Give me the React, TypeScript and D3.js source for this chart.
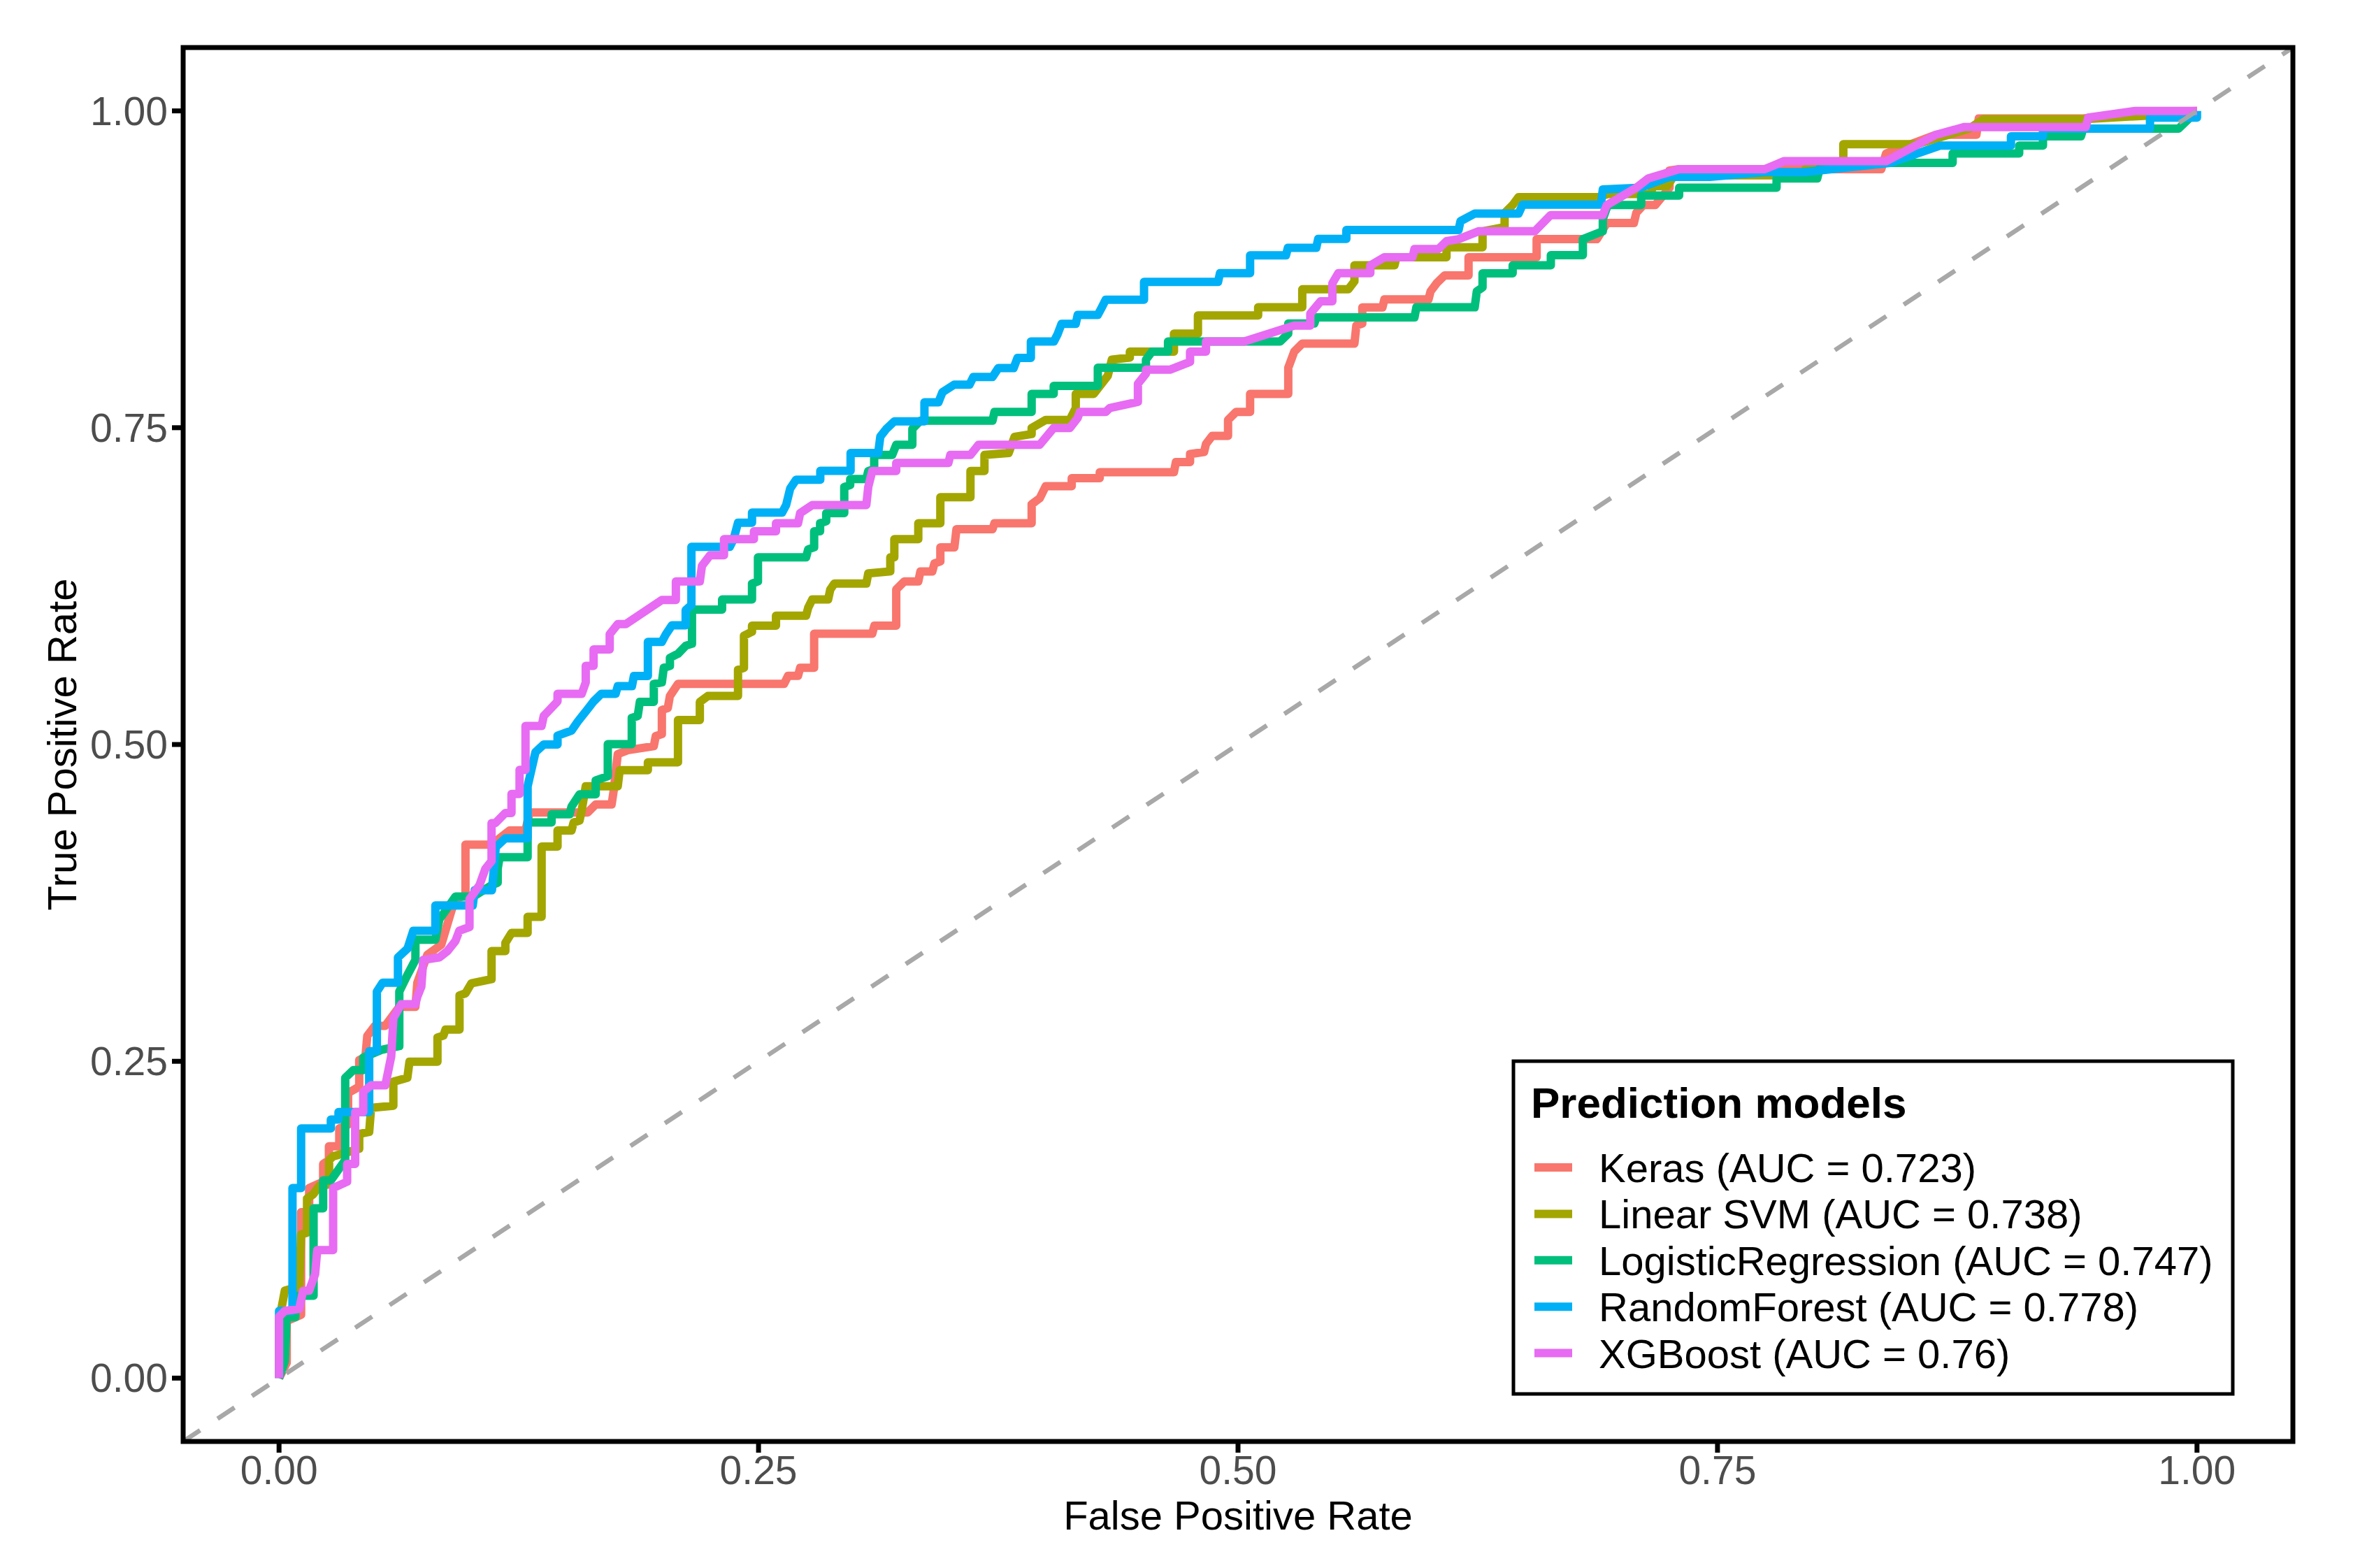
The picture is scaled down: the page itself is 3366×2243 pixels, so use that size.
import React from 'react';
import * as d3 from 'd3';

// ROC points: [false positive rate, true positive rate]
const keras = [
  [0, 0], [0.004, 0.012], [0.004, 0.045], [0.0115, 0.05], [0.0115, 0.131], [0.0157, 0.131], [0.0157, 0.15],
  [0.023, 0.155], [0.023, 0.169], [0.026, 0.172], [0.026, 0.183], [0.0314, 0.183], [0.0314, 0.197], [0.036, 0.2],
  [0.036, 0.225], [0.0418, 0.23], [0.0418, 0.251], [0.045, 0.253], [0.046, 0.27], [0.05, 0.278], [0.0554, 0.278],
  [0.0627, 0.293], [0.0711, 0.293], [0.0721, 0.312], [0.0773, 0.334], [0.0846, 0.342], [0.0899, 0.369],
  [0.092, 0.378], [0.0972, 0.381], [0.0972, 0.421], [0.1108, 0.421], [0.1202, 0.4321], [0.1285, 0.4321],
  [0.1306, 0.4464], [0.1609, 0.4464], [0.1651, 0.4527], [0.1734, 0.4527], [0.1745, 0.4638], [0.1766, 0.4924],
  [0.1818, 0.4955], [0.1954, 0.4987], [0.1964, 0.5066], [0.1996, 0.5082], [0.1996, 0.5272], [0.2027, 0.5288],
  [0.2038, 0.5383], [0.208, 0.5478], [0.2633, 0.5478], [0.2654, 0.5542], [0.2706, 0.5542], [0.2717, 0.5605],
  [0.279, 0.5605], [0.279, 0.5875], [0.3093, 0.5875], [0.3104, 0.5938], [0.3218, 0.5938], [0.3218, 0.6223],
  [0.326, 0.6287], [0.3333, 0.6287], [0.3344, 0.6366], [0.3406, 0.6366], [0.3417, 0.6429], [0.3448, 0.6445],
  [0.3448, 0.6556], [0.3521, 0.6556], [0.3532, 0.6699], [0.372, 0.6699], [0.373, 0.6746], [0.3924, 0.6746],
  [0.3924, 0.6896], [0.3966, 0.6943], [0.3997, 0.7038], [0.4133, 0.7038], [0.4133, 0.7102], [0.4279, 0.7102],
  [0.4279, 0.7149], [0.4666, 0.7149], [0.4676, 0.7228], [0.475, 0.7228], [0.475, 0.7292], [0.4823, 0.7308],
  [0.4833, 0.7371], [0.4865, 0.7435], [0.4948, 0.7435], [0.4948, 0.7561], [0.499, 0.7625], [0.5063, 0.7625],
  [0.5063, 0.7767], [0.5262, 0.7767], [0.5262, 0.7973], [0.5293, 0.81], [0.5335, 0.8164], [0.5607, 0.8164],
  [0.5617, 0.8306], [0.5648, 0.8322], [0.5648, 0.8449], [0.5753, 0.8449], [0.5763, 0.8512], [0.5993, 0.8512],
  [0.6004, 0.8576], [0.6035, 0.8639], [0.6077, 0.8702], [0.6202, 0.8702], [0.6202, 0.8845], [0.6557, 0.8845],
  [0.6557, 0.8988], [0.6871, 0.8988], [0.6923, 0.9115], [0.7064, 0.9115], [0.7077, 0.9197], [0.7114, 0.9258],
  [0.7176, 0.9258], [0.725, 0.9394], [0.725, 0.9529], [0.73, 0.954], [0.8354, 0.954], [0.8379, 0.9664],
  [0.864, 0.9812], [0.885, 0.9812], [0.8862, 0.994], [0.9408, 0.994], [0.9656, 0.9984], [1, 1],
];

const linearSvm = [
  [0, 0], [0, 0.045], [0.003, 0.069], [0.0105, 0.0723], [0.0115, 0.1132], [0.0146, 0.1148], [0.0146, 0.1417],
  [0.0178, 0.145], [0.0209, 0.1515], [0.0261, 0.153], [0.0261, 0.172], [0.0282, 0.175], [0.0324, 0.1768],
  [0.0418, 0.181], [0.0418, 0.1927], [0.047, 0.1943], [0.048, 0.2133], [0.0596, 0.2149], [0.0596, 0.2339],
  [0.0669, 0.237], [0.068, 0.2497], [0.0826, 0.2497], [0.0826, 0.2687], [0.0857, 0.2703], [0.0868, 0.275],
  [0.0941, 0.275], [0.0941, 0.302], [0.0972, 0.3036], [0.1003, 0.3116], [0.1108, 0.3148], [0.1108, 0.337],
  [0.118, 0.337], [0.118, 0.3434], [0.1212, 0.3513], [0.1296, 0.3513], [0.1296, 0.364], [0.1369, 0.364],
  [0.1369, 0.4195], [0.1452, 0.4195], [0.1452, 0.4321], [0.1525, 0.4321], [0.1536, 0.4385], [0.1567, 0.44],
  [0.1578, 0.448], [0.1599, 0.467], [0.1766, 0.467], [0.1776, 0.4797], [0.1923, 0.4797], [0.1923, 0.486],
  [0.208, 0.486], [0.208, 0.5193], [0.2194, 0.5193], [0.2194, 0.5336], [0.2236, 0.5383], [0.2393, 0.5383],
  [0.2393, 0.5589], [0.2424, 0.5605], [0.2424, 0.5859], [0.2466, 0.589], [0.2466, 0.5938], [0.2591, 0.5938],
  [0.2591, 0.6017], [0.2748, 0.6017], [0.2759, 0.608], [0.278, 0.6144], [0.2863, 0.6144], [0.2874, 0.6223],
  [0.2895, 0.627], [0.3062, 0.627], [0.3072, 0.635], [0.3187, 0.6366], [0.3187, 0.6477], [0.3208, 0.6477],
  [0.3208, 0.662], [0.3333, 0.662], [0.3333, 0.6746], [0.3448, 0.6746], [0.3448, 0.6952], [0.3605, 0.6952],
  [0.3605, 0.7158], [0.3678, 0.7158], [0.3678, 0.7285], [0.3804, 0.73], [0.3835, 0.7428], [0.3924, 0.745],
  [0.3924, 0.7498], [0.3997, 0.7561], [0.4123, 0.7561], [0.4154, 0.7656], [0.4154, 0.7767], [0.4248, 0.7767],
  [0.4321, 0.791], [0.4342, 0.8037], [0.4436, 0.8053], [0.4436, 0.81], [0.4666, 0.81], [0.4666, 0.8243],
  [0.4791, 0.8243], [0.4791, 0.8386], [0.5105, 0.8386], [0.5105, 0.845], [0.5335, 0.845], [0.5335, 0.8592],
  [0.5575, 0.8592], [0.5607, 0.8655], [0.5607, 0.8782], [0.5816, 0.8782], [0.5826, 0.8845], [0.6087, 0.8845],
  [0.6087, 0.8924], [0.6275, 0.8924], [0.6275, 0.905], [0.639, 0.9083], [0.639, 0.9194], [0.6432, 0.9257],
  [0.6463, 0.932], [0.6881, 0.932], [0.6928, 0.9344], [0.7151, 0.9344], [0.7164, 0.9406], [0.7238, 0.9406],
  [0.7275, 0.9492], [0.7945, 0.9492], [0.7957, 0.954], [0.8156, 0.9603], [0.8156, 0.9738], [0.854, 0.9738],
  [0.8813, 0.9861], [0.8887, 0.9935], [0.9408, 0.9935], [0.9755, 0.9964], [1, 1],
];

const logisticRegression = [
  [0, 0], [0.003, 0.013], [0.004, 0.048], [0.0085, 0.048], [0.0085, 0.065], [0.018, 0.065], [0.018, 0.134],
  [0.023, 0.134], [0.023, 0.156], [0.027, 0.156], [0.0345, 0.172], [0.0345, 0.237], [0.0387, 0.243],
  [0.0439, 0.243], [0.0439, 0.253], [0.0533, 0.259], [0.0627, 0.262], [0.0627, 0.305], [0.0669, 0.318],
  [0.0711, 0.33], [0.0711, 0.346], [0.0815, 0.346], [0.0836, 0.362], [0.092, 0.38], [0.1014, 0.38],
  [0.1108, 0.389], [0.114, 0.391], [0.114, 0.402], [0.115, 0.411], [0.1296, 0.411], [0.1296, 0.4385],
  [0.1421, 0.4385], [0.1421, 0.445], [0.1515, 0.445], [0.1525, 0.451], [0.1567, 0.4607], [0.1651, 0.4607],
  [0.1651, 0.4717], [0.1714, 0.475], [0.1714, 0.5003], [0.1839, 0.5003], [0.1839, 0.521], [0.187, 0.5225],
  [0.1881, 0.5336], [0.1954, 0.5336], [0.1954, 0.5478], [0.1996, 0.549], [0.2006, 0.5605], [0.2038, 0.562],
  [0.2038, 0.5684], [0.208, 0.5716], [0.2121, 0.578], [0.2153, 0.5795], [0.2153, 0.6065], [0.231, 0.6065],
  [0.231, 0.6144], [0.2466, 0.6144], [0.2466, 0.627], [0.2497, 0.6287], [0.2497, 0.6477], [0.2748, 0.6477],
  [0.2759, 0.654], [0.279, 0.6556], [0.279, 0.6683], [0.2821, 0.6683], [0.2821, 0.6746], [0.2853, 0.6762],
  [0.2853, 0.6826], [0.2947, 0.6826], [0.2947, 0.7032], [0.2978, 0.7048], [0.2978, 0.7095], [0.3062, 0.7095],
  [0.3072, 0.7158], [0.3103, 0.7174], [0.3103, 0.7285], [0.3197, 0.7285], [0.3218, 0.7365], [0.3302, 0.7365],
  [0.3302, 0.7491], [0.3344, 0.7555], [0.372, 0.7555], [0.373, 0.7625], [0.3924, 0.7625], [0.3924, 0.7767],
  [0.4039, 0.7767], [0.4039, 0.783], [0.4269, 0.783], [0.4269, 0.7973], [0.452, 0.7973], [0.452, 0.8037],
  [0.4551, 0.81], [0.4635, 0.81], [0.4635, 0.818], [0.522, 0.818], [0.5262, 0.8243], [0.5262, 0.8322],
  [0.5398, 0.8322], [0.5408, 0.837], [0.592, 0.837], [0.593, 0.845], [0.6234, 0.845], [0.6245, 0.8576],
  [0.6275, 0.8607], [0.6275, 0.8718], [0.6432, 0.8718], [0.6432, 0.8782], [0.6631, 0.8782], [0.6631, 0.8861],
  [0.6798, 0.8861], [0.6798, 0.8988], [0.6902, 0.9051], [0.6902, 0.9146], [0.6928, 0.9258], [0.7102, 0.9258],
  [0.7102, 0.9332], [0.73, 0.9332], [0.73, 0.9394], [0.7808, 0.9394], [0.7808, 0.9467], [0.802, 0.9467],
  [0.8032, 0.954], [0.8045, 0.959], [0.8726, 0.959], [0.8726, 0.9664], [0.9073, 0.9664], [0.9073, 0.9726],
  [0.9197, 0.9726], [0.9197, 0.98], [0.9395, 0.98], [0.9407, 0.986], [0.9904, 0.986], [1, 1],
];

const randomForest = [
  [0, 0], [0, 0.053], [0.007, 0.053], [0.007, 0.15], [0.0115, 0.15], [0.0115, 0.197], [0.027, 0.197],
  [0.027, 0.204], [0.031, 0.204], [0.031, 0.21], [0.047, 0.21], [0.047, 0.258], [0.051, 0.258], [0.051, 0.305],
  [0.054, 0.312], [0.062, 0.312], [0.062, 0.332], [0.067, 0.339], [0.07, 0.353], [0.0815, 0.353],
  [0.0815, 0.373], [0.101, 0.373], [0.102, 0.385], [0.111, 0.385], [0.113, 0.419], [0.118, 0.426],
  [0.1296, 0.426], [0.1296, 0.467], [0.1337, 0.494], [0.138, 0.5], [0.1452, 0.5], [0.1452, 0.507],
  [0.1525, 0.511], [0.1557, 0.518], [0.1599, 0.526], [0.164, 0.534], [0.168, 0.54], [0.1755, 0.54],
  [0.1766, 0.546], [0.184, 0.546], [0.185, 0.554], [0.1923, 0.554], [0.1923, 0.581], [0.1996, 0.581],
  [0.2017, 0.587], [0.2048, 0.594], [0.212, 0.594], [0.212, 0.606], [0.215, 0.61], [0.215, 0.656],
  [0.235, 0.656], [0.237, 0.662], [0.2393, 0.675], [0.2466, 0.675], [0.2466, 0.683], [0.2623, 0.683],
  [0.2644, 0.689], [0.2665, 0.702], [0.2696, 0.709], [0.2822, 0.709], [0.2822, 0.716], [0.298, 0.716],
  [0.298, 0.73], [0.3124, 0.73], [0.3135, 0.743], [0.3166, 0.749], [0.3208, 0.755], [0.3365, 0.755],
  [0.3365, 0.77], [0.3438, 0.77], [0.3459, 0.778], [0.352, 0.784], [0.36, 0.784], [0.362, 0.79], [0.372, 0.79],
  [0.375, 0.797], [0.383, 0.797], [0.385, 0.805], [0.392, 0.805], [0.392, 0.818], [0.404, 0.818],
  [0.406, 0.824], [0.408, 0.832], [0.4154, 0.832], [0.4164, 0.839], [0.4269, 0.839], [0.429, 0.845],
  [0.431, 0.851], [0.451, 0.851], [0.451, 0.865], [0.4896, 0.865], [0.4906, 0.872], [0.5063, 0.872],
  [0.5063, 0.886], [0.525, 0.886], [0.526, 0.892], [0.5408, 0.892], [0.5418, 0.899], [0.5565, 0.899],
  [0.5565, 0.906], [0.615, 0.906], [0.616, 0.913], [0.6234, 0.919], [0.6463, 0.919], [0.6484, 0.926],
  [0.6892, 0.926], [0.6902, 0.938], [0.71, 0.9394], [0.725, 0.948], [0.746, 0.948], [0.775, 0.9517],
  [0.795, 0.9517], [0.84, 0.959], [0.866, 0.9726], [0.903, 0.9726], [0.903, 0.98], [0.9197, 0.98],
  [0.9197, 0.986], [0.9755, 0.986], [0.9755, 0.9947], [1, 0.9947], [1, 1],
];

const xgBoost = [
  [0, 0], [0, 0.0485], [0.003, 0.053], [0.0105, 0.0546], [0.0125, 0.0688], [0.0157, 0.069], [0.0188, 0.082],
  [0.0199, 0.101], [0.0282, 0.101], [0.0282, 0.15], [0.0355, 0.155], [0.0355, 0.169], [0.0397, 0.169],
  [0.0397, 0.21], [0.0439, 0.21], [0.0439, 0.226], [0.048, 0.231], [0.0554, 0.231], [0.0585, 0.254],
  [0.0596, 0.284], [0.0637, 0.295], [0.0711, 0.295], [0.0721, 0.301], [0.0742, 0.309], [0.0752, 0.33],
  [0.0836, 0.332], [0.0878, 0.337], [0.092, 0.345], [0.094, 0.353], [0.0993, 0.356], [0.0993, 0.378],
  [0.1045, 0.389], [0.1076, 0.402], [0.1108, 0.408], [0.1108, 0.438], [0.1128, 0.438], [0.118, 0.446],
  [0.1212, 0.446], [0.1212, 0.461], [0.1254, 0.461], [0.1254, 0.48], [0.1285, 0.48], [0.1285, 0.5146],
  [0.1369, 0.5146], [0.138, 0.5225], [0.1452, 0.534], [0.1452, 0.54], [0.1578, 0.54], [0.1599, 0.549],
  [0.1599, 0.562], [0.164, 0.562], [0.164, 0.575], [0.1724, 0.575], [0.1724, 0.587], [0.1766, 0.595],
  [0.1808, 0.595], [0.1996, 0.614], [0.2069, 0.614], [0.2069, 0.6287], [0.2194, 0.6287], [0.2205, 0.641],
  [0.2247, 0.6493], [0.232, 0.6493], [0.232, 0.662], [0.2476, 0.662], [0.2476, 0.6683], [0.2591, 0.6683],
  [0.2591, 0.6746], [0.2706, 0.6746], [0.2717, 0.6826], [0.278, 0.689], [0.3062, 0.689], [0.3072, 0.7032],
  [0.3093, 0.7158], [0.3218, 0.7158], [0.3218, 0.7222], [0.349, 0.7222], [0.35, 0.7285], [0.3605, 0.7285],
  [0.3647, 0.7365], [0.3966, 0.7365], [0.4039, 0.7498], [0.4123, 0.7498], [0.4164, 0.7577], [0.4175, 0.7625],
  [0.4311, 0.7625], [0.4332, 0.7656], [0.4478, 0.7704], [0.4478, 0.7847], [0.452, 0.7926], [0.452, 0.7958],
  [0.4645, 0.7958], [0.475, 0.802], [0.475, 0.81], [0.4833, 0.81], [0.4833, 0.818], [0.5032, 0.818],
  [0.5293, 0.8306], [0.5377, 0.8306], [0.5377, 0.84], [0.543, 0.8497], [0.5492, 0.8497], [0.5492, 0.864],
  [0.5523, 0.872], [0.569, 0.872], [0.569, 0.878], [0.5763, 0.8845], [0.591, 0.8845], [0.592, 0.891],
  [0.6045, 0.891], [0.6087, 0.8972], [0.615, 0.8988], [0.6254, 0.905], [0.6547, 0.905], [0.663, 0.9178],
  [0.6902, 0.9178], [0.6923, 0.9257], [0.7077, 0.9394], [0.7139, 0.9467], [0.73, 0.954], [0.7746, 0.954],
  [0.7846, 0.9603], [0.8379, 0.9603], [0.864, 0.9812], [0.8788, 0.9873], [0.942, 0.9873], [0.9433, 0.9947],
  [0.968, 1], [1, 1],
];

const modelLabels = [
  'Keras (AUC = 0.723)',
  'Linear SVM (AUC = 0.738)',
  'LogisticRegression (AUC = 0.747)',
  'RandomForest (AUC = 0.778)',
  'XGBoost (AUC = 0.76)',
];
const modelColors = ['#F8766D', '#A3A500', '#00BF7D', '#00B0F6', '#E76BF3'];
const tickValues = [0, 0.25, 0.5, 0.75, 1];

const FONT = '"Liberation Sans", Arial, Helvetica, sans-serif';

const App = () => {
    const width = 3366;
    const height = 2243;
    const panel = {left: 262, right: 3280, top: 68, bottom: 2062};

    const xScale = d3.scaleLinear().domain([-0.05, 1.05]).range([panel.left, panel.right]);
    const yScale = d3.scaleLinear().domain([-0.05, 1.05]).range([panel.bottom, panel.top]);
    const fmt = d3.format('.2f');

    const lineGen = d3
        .line()
        .x((d) => xScale(d[0]))
        .y((d) => yScale(d[1]));

    const series = [keras, linearSvm, logisticRegression, randomForest, xgBoost];

    // legend box
    const legend = {x: 2165, y: 1518, w: 1029, h: 476};
    const rowY = (i) => 1670 + i * 66.4;

    return (
        <svg
            width={width}
            height={height}
            style={{position: 'absolute', left: 0, top: 0, background: '#fff'}}
            fontFamily={FONT}
        >
            <rect x={0} y={0} width={width} height={height} fill="#fff" />

            {/* curves */}
            <g fill="none" strokeWidth={12} strokeLinejoin="round">
                {series.map((s, i) => (
                    <path key={i} d={lineGen(s)} stroke={modelColors[i]} />
                ))}
            </g>

            {/* chance line */}
            <line
                x1={xScale(-0.05)}
                y1={yScale(-0.05)}
                x2={xScale(1.05)}
                y2={yScale(1.05)}
                stroke="#A8A8A8"
                strokeWidth={6.5}
                strokeDasharray="29 30"
            />

            {/* panel border */}
            <rect
                x={panel.left}
                y={panel.top}
                width={panel.right - panel.left}
                height={panel.bottom - panel.top}
                fill="none"
                stroke="#000"
                strokeWidth={7}
            />

            {/* y axis */}
            {tickValues.map((t) => (
                <g key={'y' + t}>
                    <line x1={panel.left - 16} x2={panel.left} y1={yScale(t)} y2={yScale(t)} stroke="#000" strokeWidth={7} />
                    <text x={240} y={yScale(t) + 20} textAnchor="end" fontSize={57} fill="#4D4D4D">
                        {fmt(t)}
                    </text>
                </g>
            ))}

            {/* x axis */}
            {tickValues.map((t) => (
                <g key={'x' + t}>
                    <line x1={xScale(t)} x2={xScale(t)} y1={panel.bottom} y2={panel.bottom + 16} stroke="#000" strokeWidth={7} />
                    <text x={xScale(t)} y={2123} textAnchor="middle" fontSize={57} fill="#4D4D4D">
                        {fmt(t)}
                    </text>
                </g>
            ))}

            <text x={(panel.left + panel.right) / 2} y={2188} textAnchor="middle" fontSize={58} fill="#000">
                False Positive Rate
            </text>
            <text
                transform={`translate(109,${(panel.top + panel.bottom) / 2}) rotate(-90)`}
                textAnchor="middle"
                fontSize={58}
                fill="#000"
            >
                True Positive Rate
            </text>

            {/* legend */}
            <rect x={legend.x} y={legend.y} width={legend.w} height={legend.h} fill="#fff" stroke="#000" strokeWidth={5} />
            <text x={2190} y={1599} fontSize={62} fontWeight="bold" fill="#000">
                Prediction models
            </text>
            {modelLabels.map((label, i) => (
                <g key={label}>
                    <line x1={2195} x2={2249} y1={rowY(i)} y2={rowY(i)} stroke={modelColors[i]} strokeWidth={12} />
                    <text x={2287} y={rowY(i) + 21} fontSize={58} fill="#000">
                        {label}
                    </text>
                </g>
            ))}
        </svg>
    );
};

export default App;
